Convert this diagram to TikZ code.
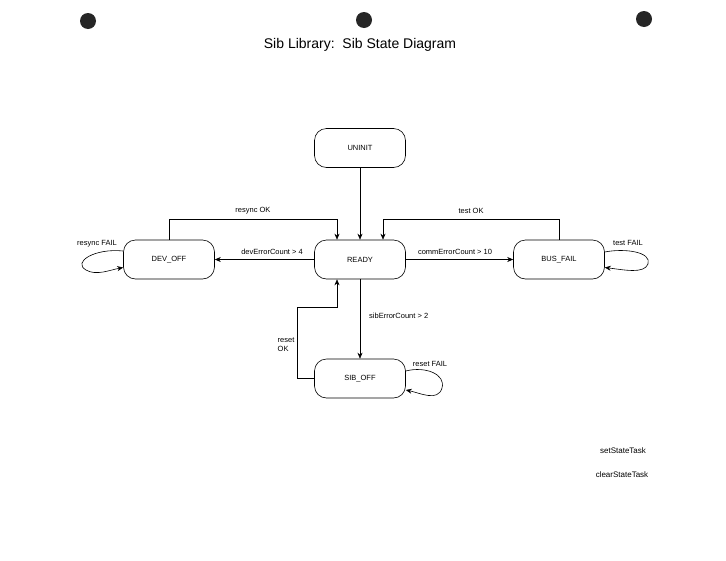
\documentclass[tikz,border=0pt]{standalone}
\usepackage{fontspec}
\setmainfont{Liberation Sans}
\usetikzlibrary{arrows.meta}
\begin{document}
\begin{tikzpicture}[x=1pt,y=-1pt,
  state/.style={draw,rounded corners=12pt,minimum width=91pt,minimum height=39pt,font=\fontsize{7.5}{9}\selectfont,line width=0.6pt},
  lbl/.style={font=\fontsize{7.5}{9}\selectfont,inner sep=1pt},
  conn/.style={draw,line width=0.6pt,-{Stealth[length=6pt,width=5pt]}},
  hole/.style={fill=black!85,circle,minimum size=16pt,inner sep=0pt}]
\useasboundingbox (0,0) rectangle (726,560);
\fill[white] (0,0) rectangle (726,560);
\node[hole] (h1) at (88,21) {};
\node[hole] (h2) at (364,20) {};
\node[hole] (h3) at (644,19) {};
\node[font=\fontsize{14}{16}\selectfont] (title) at (360,45) {Sib Library:\ \ Sib State Diagram};
\node[state] (uninit) at (360,148) {UNINIT};
\node[state] (ready) at (360,259.5) {READY};
\node[state] (dev) at (169,259.5) {DEV\_OFF};
\node[state] (bus) at (559,259.5) {BUS\_FAIL};
\node[state] (sib) at (360,378.5) {SIB\_OFF};
\coordinate (r1) at (337,219);
\coordinate (r2) at (383,219);
\coordinate (s1) at (297,307);
% uninit -> ready
\draw[conn] (uninit) -- (ready);
% resync OK
\draw[conn] (dev.north) |- (r1) -- (r1 |- ready.north);
\node[lbl] (lresok) at (253,211) {resync OK};
% test OK
\draw[conn] (bus.north) |- (r2) -- (r2 |- ready.north);
\node[lbl] (ltestok) at (471,211) {test OK};
% devErrorCount
\draw[conn] (ready.west) -- (dev.east);
\node[lbl] (ldev) at (272,252) {devErrorCount > 4};
% commErrorCount
\draw[conn] (ready.east) -- (bus.west);
\node[lbl] (lcomm) at (455,252) {commErrorCount > 10};
% sibErrorCount
\draw[conn] (ready.south) -- (sib.north);
\node[lbl,anchor=west] (lsib) at (368,316) {sibErrorCount > 2};
% reset OK
\draw[conn] (sib.west) -| (s1) -| (337,0 |- ready.south);
\node[lbl,align=left] (lresetok) at (286,345) {reset\\OK};
% self loops
\draw[conn] (dev.west |- 0,251) .. controls (95,248) and (72,262) .. (86,270) .. controls (96,276) and (110,270) .. (dev.west |- 0,267.5);
\node[lbl] (lresfail) at (97,244) {resync FAIL};
\draw[conn] (bus.east |- 0,252) .. controls (625,248) and (652,252) .. (648,264) .. controls (644,274) and (625,270) .. (bus.east |- 0,267.5);
\node[lbl] (ltestfail) at (628,243) {test FAIL};
\draw[conn] (sib.east |- 0,371) .. controls (425,366) and (446,374) .. (442,388) .. controls (438,402) and (420,393) .. (sib.east |- 0,390);
\node[lbl] (lresetfail) at (430,364) {reset FAIL};
% tasks
\node[lbl,font=\fontsize{8}{10}\selectfont] (t1) at (623,451) {setStateTask};
\node[lbl,font=\fontsize{8}{10}\selectfont] (t2) at (622,475) {clearStateTask};
\end{tikzpicture}
\end{document}
